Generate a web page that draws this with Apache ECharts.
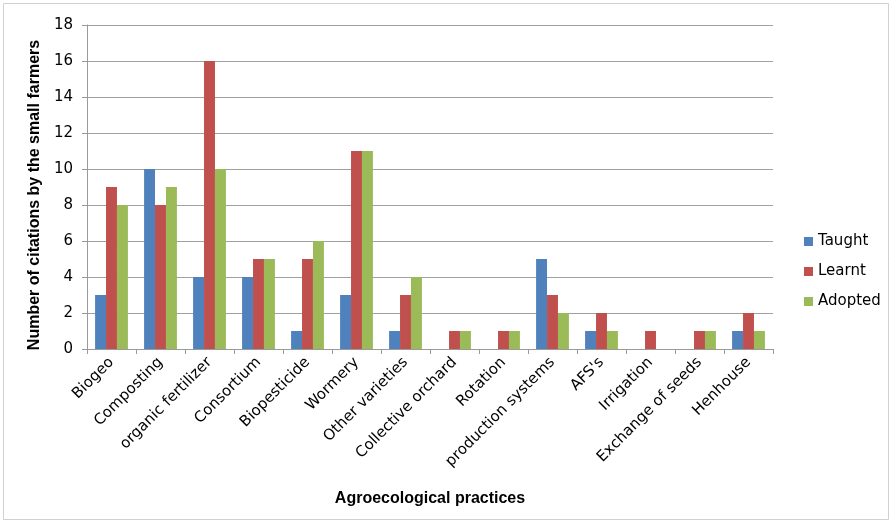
<!DOCTYPE html>
<html><head><meta charset="utf-8">
<script src="https://cdn.jsdelivr.net/npm/echarts@6/dist/echarts.min.js"></script>
<style>html,body{margin:0;padding:0;background:#fff}#c{width:893px;height:525px}</style>
</head><body><div id="c"></div>
<script>
const categories = ["Biogeo","Composting","organic fertilizer","Consortium","Biopesticide","Wormery","Other varieties","Collective orchard","Rotation","production systems","AFS's","Irrigation","Exchange of seeds","Henhouse"];
const taught  = [3,10,4,4,1,3,1,0,0,5,1,0,0,1];
const learnt  = [9,8,16,5,5,11,3,1,1,3,2,1,1,2];
const adopted = [8,9,10,5,6,11,4,1,1,2,1,0,1,1];
const seriesNames = ["Taught","Learnt","Adopted"];
const colors = ["#4F81BD","#C0504D","#9BBB59"];
const FONT = "DejaVu Sans";
const BFONT = "Liberation Sans";
const chart = echarts.init(document.getElementById('c'));
chart.setOption({
  animation:false,
  textStyle:{fontFamily:FONT},
  graphic:[{type:'rect',shape:{x:3.5,y:3.5,width:885,height:516},style:{fill:'none',stroke:'#d0d0d0',lineWidth:1},silent:true}],
  grid:{left:87,right:120,top:25,bottom:176},
  legend:{orient:'vertical',left:799,top:229,itemWidth:9,itemHeight:9,itemGap:15,icon:'rect',
    textStyle:{fontFamily:FONT,fontSize:15,color:'#000'},data:seriesNames},
  xAxis:{type:'category',data:categories,
    name:'Agroecological practices',nameLocation:'middle',nameGap:142,
    nameTextStyle:{fontFamily:BFONT,fontSize:16,fontWeight:'bold',color:'#000'},
    axisLine:{lineStyle:{color:'#9a9a9a'}},
    axisTick:{show:true,length:5,lineStyle:{color:'#9a9a9a'}},
    axisLabel:{rotate:45,interval:0,fontSize:15,color:'#000',margin:11,fontFamily:FONT}},
  yAxis:{type:'value',min:0,max:18,interval:2,
    name:'Number of citations by the small farmers',nameLocation:'middle',nameGap:38,
    nameTextStyle:{fontFamily:BFONT,fontSize:16,fontWeight:'bold',color:'#000',padding:[0,16,0,0]},
    axisLine:{show:true,lineStyle:{color:'#9a9a9a'}},
    axisTick:{show:true,length:5,lineStyle:{color:'#9a9a9a'}},
    splitLine:{lineStyle:{color:'#a0a0a0',width:1}},
    axisLabel:{fontSize:15,color:'#000',margin:14,fontFamily:FONT}},
  series:[taught,learnt,adopted].map((d,i)=>({
    name:seriesNames[i],type:'bar',data:d,barGap:'0%',barCategoryGap:'33%',
    itemStyle:{color:colors[i]}
  }))
});
</script></body></html>
